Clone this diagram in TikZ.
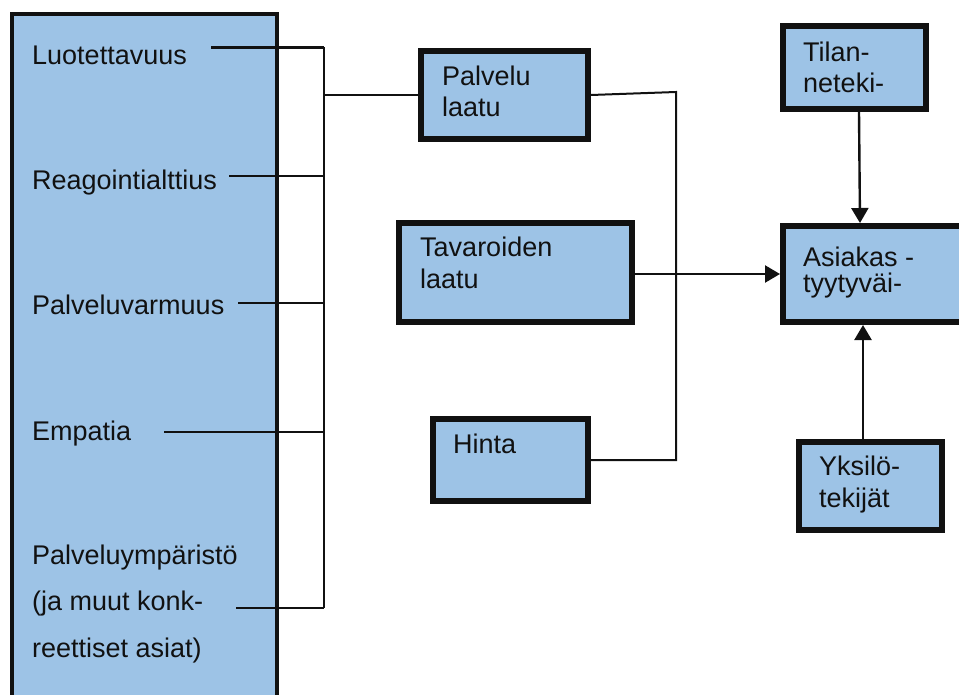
\documentclass[tikz,border=0pt]{standalone}
\usepackage{fontspec}
\setmainfont{Liberation Sans}
\usetikzlibrary{arrows.meta}
\definecolor{boxfill}{HTML}{9DC3E6}
\definecolor{ink}{HTML}{111111}
\tikzset{
  box/.style={draw=ink, fill=boxfill, line width=6pt, rectangle, inner sep=0pt, anchor=north west},
  bigbox/.style={draw=ink, fill=boxfill, line width=4pt, rectangle, inner sep=0pt, anchor=north west},
  lbl/.style={font=\fontsize{27}{31.5}\selectfont, text=ink, inner sep=0pt, anchor=base west, align=left},
  conn/.style={draw=ink, line width=1.6pt},
  arr/.style={draw=ink, line width=2.4pt, -{Triangle[length=15pt,width=17pt]}},
}
\begin{document}
\begin{tikzpicture}[x=1pt,y=-1pt]
\useasboundingbox (0,0) rectangle (959,695);
\clip (0,0) rectangle (959,695);
% left big box (runs off the bottom)
\node[bigbox, minimum width=265pt, minimum height=760pt] (left) at (10,12) {};
% boxes
\node[box, minimum width=167pt, minimum height=88pt] (pal) at (418,48) {};
\node[box, minimum width=233pt, minimum height=99pt] (tav) at (396,220) {};
\node[box, minimum width=155pt, minimum height=82pt] (hin) at (430,416) {};
\node[box, minimum width=143pt, minimum height=83pt] (til) at (780,23) {};
\node[box, minimum width=200pt, minimum height=96pt] (asi) at (780,223) {};
\node[box, minimum width=143pt, minimum height=88pt] (yks) at (796,439) {};
% left texts
\node[lbl] (t1) at (32,65) {Luotettavuus};
\node[lbl] (t2) at (32,190) {Reagointialttius};
\node[lbl] (t3) at (32,315) {Palveluvarmuus};
\node[lbl] (t4) at (32,440) {Empatia};
\node[lbl] (t5a) at (32,564) {Palveluympäristö};
\node[lbl] (t5b) at (32,610) {(ja muut konk-};
\node[lbl] (t5c) at (32,657) {reettiset asiat)};
% box texts (base anchor = baseline of the last line)
\node[lbl] (palT) at (442,117) {Palvelu\\laatu};
\node[lbl] (tavT) at (420,288) {Tavaroiden\\laatu};
\node[lbl] (hinT) at (453,453) {Hinta};
\node[lbl] (tilT) at (803,93) {Tilan-\\neteki-};
\node[lbl] (asiT) at (803,293) {Asiakas -\\[-5.5pt]tyytyväi-};
\node[lbl] (yksT) at (819,507) {Yksilö-\\tekijät};
% bracket
\coordinate (bTop) at (324,47.5);
\coordinate (bBot) at (324,608);
\coordinate (s1) at (211,47.5);
\coordinate (s2) at (229,176);
\coordinate (s3) at (238,303);
\coordinate (s4) at (164,432);
\coordinate (s5) at (236,608);
\draw[conn, line width=2.6pt] (s1) -- (bTop);
\draw[conn, line width=2pt] (bTop) -- (bBot);
\draw[conn] (s2) -- (s2 -| bTop);
\draw[conn] (s3) -- (s3 -| bTop);
\draw[conn] (s4) -- (s4 -| bTop);
\draw[conn] (s5) -- (bBot);
\draw[conn, line width=2.2pt] (bTop |- pal.west) -- (pal.west);
% Palvelu / Hinta collector
\coordinate (jn) at (676,92);
\draw[conn, line width=2pt] (pal.east) -- (jn) -- (jn |- hin.east) -- (hin.east);
% arrows
\coordinate (tavOut) at (tav.east |- 0,274);
\draw[arr] (tavOut) -- (tavOut -| asi.west);
\draw[arr] ([xshift=4.5pt]til.south) -- ([xshift=80pt]asi.north west);
\draw[arr] ([xshift=-7.5pt]yks.north) -- ([xshift=-7.5pt]yks.north |- asi.south);
\end{tikzpicture}
\end{document}
